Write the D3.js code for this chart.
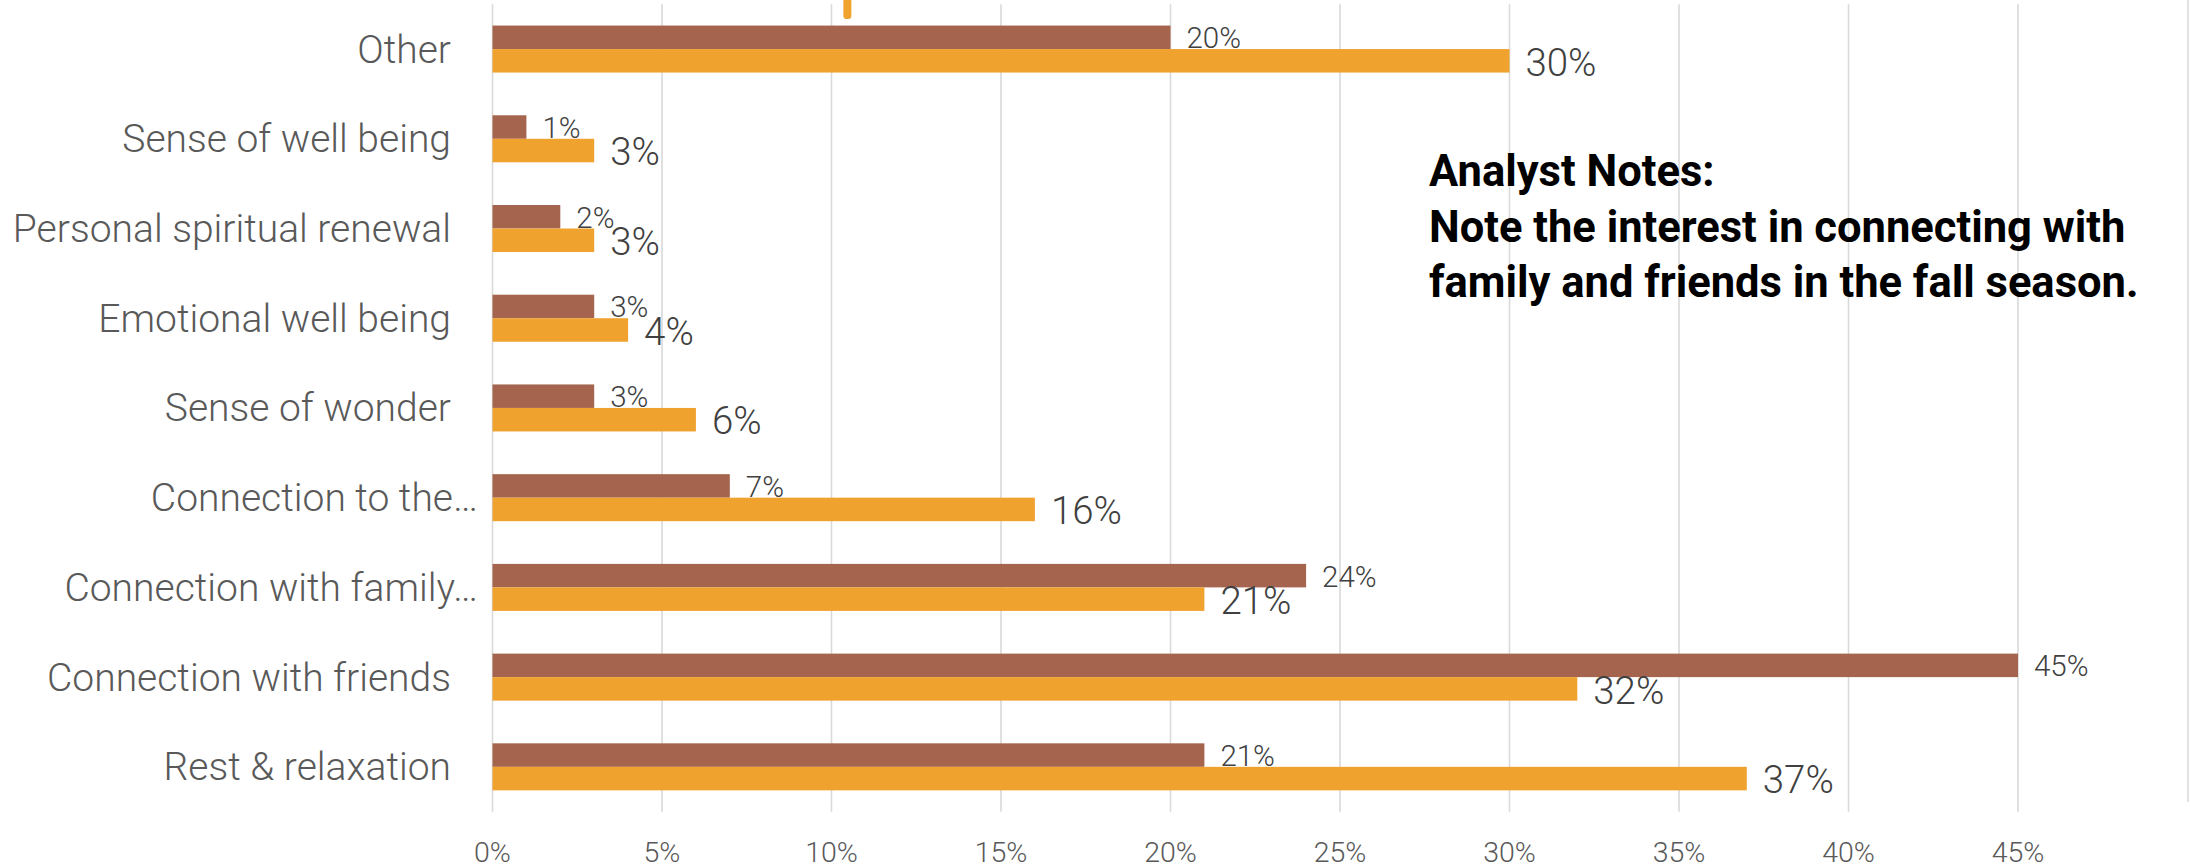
<!DOCTYPE html>
<html>
<head>
<meta charset="utf-8">
<script src="https://cdn.jsdelivr.net/npm/d3@7"></script>
<style>
  html, body { margin: 0; padding: 0; background: #fff; }
  svg { display: block; }
</style>
</head>
<body>
<svg id="chart" width="2190" height="868"></svg>
<script>
// Categories, top to bottom
const categories = [
  "Other",
  "Sense of well being",
  "Personal spiritual renewal",
  "Emotional well being",
  "Sense of wonder",
  "Connection to the…",
  "Connection with family…",
  "Connection with friends",
  "Rest & relaxation"
];
// Share of respondents (%), first series (brown)
const seriesOne = [20, 1, 2, 3, 3, 7, 24, 45, 21];
// Share of respondents (%), second series (orange)
const seriesTwo = [30, 3, 3, 4, 6, 16, 21, 32, 37];
// X axis ticks (%)
const xTicks = [0, 5, 10, 15, 20, 25, 30, 35, 40, 45];
// Note lines
const noteLines = [
  "Analyst Notes:",
  "Note the interest in connecting with",
  "family and friends in the fall season."
];

const colors = { one: "#A5644E", two: "#F0A22E" };
const svg = d3.select("#chart");

const plot = { left: 492.5, right: 2018, top: 4.2, bottom: 811.7 };

const x = d3.scaleLinear().domain([0, 45]).range([plot.left, plot.right]);
const y = d3.scaleBand().domain(categories).range([plot.top, plot.bottom])
  .paddingInner(0.476).paddingOuter(0.238);
const sub = d3.scaleBand().domain(["one", "two"]).range([0, y.bandwidth()]).padding(0);

// Vertical gridlines
svg.append("g").selectAll("line").data(xTicks).join("line")
  .attr("x1", d => x(d)).attr("x2", d => x(d))
  .attr("y1", plot.top).attr("y2", plot.bottom)
  .attr("stroke", "#D9D9D9").attr("stroke-width", 1.6);

// Right frame edge
svg.append("line").attr("x1", 2188).attr("x2", 2188).attr("y1", 0).attr("y2", 802)
  .attr("stroke", "#D9D9D9").attr("stroke-width", 1.5);

// Small orange marker peeking in at the top
svg.append("rect").attr("x", x(10.35)).attr("y", -4).attr("width", 8).attr("height", 23)
  .attr("rx", 3).attr("fill", colors.two);

const rows = categories.map((c, i) => ({ cat: c, one: seriesOne[i], two: seriesTwo[i] }));

const groups = svg.append("g").selectAll("g").data(rows).join("g")
  .attr("transform", d => `translate(0,${y(d.cat)})`);

["one", "two"].forEach(key => {
  groups.append("rect")
    .attr("x", x(0))
    .attr("y", sub(key))
    .attr("width", d => x(d[key]) - x(0))
    .attr("height", sub.bandwidth())
    .attr("fill", colors[key]);
});

// Value labels
groups.append("text")
  .attr("x", d => x(d.one) + 16)
  .attr("y", sub("one") + sub.bandwidth() / 2 + 11)
  .attr("font-family", "Roboto, 'Noto Sans', sans-serif")
  .attr("font-weight", 300)
  .attr("font-size", 29.5)
  .attr("fill", "#404040")
  .text(d => d.one + "%");

groups.append("text")
  .attr("x", d => x(d.two) + 16)
  .attr("y", sub("two") + sub.bandwidth() / 2 + 14.7)
  .attr("font-family", "Roboto, 'Noto Sans', sans-serif")
  .attr("font-weight", 300)
  .attr("font-size", 38.4)
  .attr("fill", "#404040")
  .text(d => d.two + "%");

// Category labels
svg.append("g").selectAll("text").data(categories).join("text")
  .attr("x", d => d.endsWith("…") ? 478 : 451)
  .attr("y", d => y(d) + y.bandwidth() / 2 + 13.5)
  .attr("text-anchor", "end")
  .attr("font-family", "Roboto, 'Noto Sans', sans-serif")
  .attr("font-weight", 300)
  .attr("font-size", 39)
  .attr("fill", "#595959")
  .text(d => d);

// X axis tick labels
svg.append("g").selectAll("text").data(xTicks).join("text")
  .attr("x", d => x(d))
  .attr("y", 862)
  .attr("text-anchor", "middle")
  .attr("font-family", "Roboto, 'Noto Sans', sans-serif")
  .attr("font-weight", 300)
  .attr("font-size", 28.5)
  .attr("fill", "#595959")
  .text(d => d + "%");

// Note block
svg.append("g").selectAll("text").data(noteLines).join("text")
  .attr("x", 1429)
  .attr("y", (d, i) => 186 + i * 55.5)
  .attr("font-family", "Roboto, 'Noto Sans', sans-serif")
  .attr("font-weight", 700)
  .attr("font-size", 43.5)
  .attr("fill", "#000")
  .text(d => d);
</script>
</body>
</html>
